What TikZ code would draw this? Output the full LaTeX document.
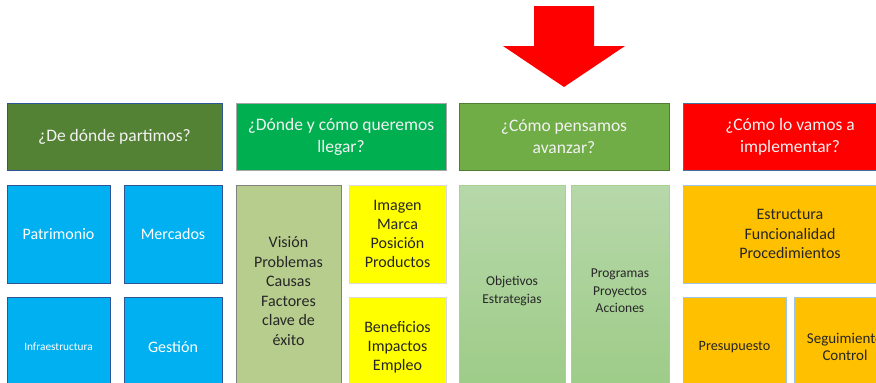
\documentclass[tikz,border=0pt]{standalone}
\usepackage{fontspec}
\setmainfont{Carlito}
\definecolor{hOne}{HTML}{548235}
\definecolor{hOneB}{HTML}{2F5597}
\definecolor{hTwo}{HTML}{00B050}
\definecolor{hThree}{HTML}{70AD47}
\definecolor{hThreeB}{HTML}{507E32}
\definecolor{hFour}{HTML}{FF0000}
\definecolor{hFourB}{HTML}{41719C}
\definecolor{bBlue}{HTML}{00B0F0}
\definecolor{bBlueB}{HTML}{2F5597}
\definecolor{bOlive}{HTML}{B7CD8D}
\definecolor{bYellow}{HTML}{FFFF00}
\definecolor{gTop}{HTML}{B7D8AA}
\definecolor{gBot}{HTML}{9CCB86}
\definecolor{gB}{HTML}{A9D18E}
\definecolor{bOrange}{HTML}{FFC000}
\definecolor{bOrangeB}{HTML}{9DC3E6}
\definecolor{txtW}{HTML}{F2F2F2}
\definecolor{txtD}{HTML}{262626}
\tikzset{
  box/.style={draw, line width=1pt, inner sep=0pt, align=center, anchor=center},
  head/.style={box, minimum width=#1, minimum height=67pt, text=txtW,
    font=\fontsize{17.5}{22}\selectfont},
  body/.style={box, text=txtD, font=\fontsize{16}{19.5}\selectfont},
}
\begin{document}
\begin{tikzpicture}[x=1pt,y=-1pt]
\path[use as bounding box, clip] (0,0) rectangle (876,383);
\fill[white] (0,0) rectangle (876,383);
% arrow
\fill[red] (534,6) -- (594,6) -- (594,46) -- (625,46) -- (564,87) -- (503,46) -- (534,46) -- cycle;
% headers
\node[head=215pt, fill=hOne, draw=hOneB] (h1) at (114.5,136.5) {¿De dónde partimos?};
\node[head=210pt, fill=hTwo, draw=gray!70] (h2) at (341,136.5) {¿Dónde y cómo queremos\\llegar?};
\node[head=210pt, fill=hThree, draw=hThreeB] (h3) at (564,136.5) {¿Cómo pensamos\\avanzar?};
\node[head=214pt, fill=hFour, draw=hFourB] (h4) at (790,136.5) {¿Cómo lo vamos a\\implementar?};
% column 1
\node[body, fill=bBlue, draw=bBlueB, text=white, minimum width=103pt, minimum height=98pt] (pat) at (58.5,234) {Patrimonio};
\node[body, fill=bBlue, draw=bBlueB, text=white, minimum width=98pt, minimum height=98pt] (mer) at (173,234) {Mercados};
\node[body, fill=bBlue, draw=bBlueB, text=white, minimum width=103pt, minimum height=100pt, font=\fontsize{11.3}{13}\selectfont] (inf) at (58.5,347) {Infraestructura};
\node[body, fill=bBlue, draw=bBlueB, text=white, minimum width=98pt, minimum height=100pt] (ges) at (173,347) {Gestión};
% column 2
\node[body, fill=bOlive, draw=gray, minimum width=105pt, minimum height=212pt] (vis) at (288.5,291) {Visión\\Problemas\\Causas\\Factores\\clave de\\éxito};
\node[body, fill=bYellow, draw=gray!30, minimum width=97pt, minimum height=98pt, font=\fontsize{16}{19.2}\selectfont] (ima) at (397.5,234) {Imagen\\Marca\\Posición\\Productos};
\node[body, fill=bYellow, draw=gray!30, minimum width=97pt, minimum height=100pt, font=\fontsize{16}{19.2}\selectfont] (ben) at (397.5,347) {Beneficios\\Impactos\\Empleo};
% column 3
\node[body, top color=gTop, bottom color=gBot, draw=gB, minimum width=106pt, minimum height=212pt, font=\fontsize{13.5}{17.5}\selectfont] (obj) at (512,291) {Objetivos\\Estrategias};
\node[body, top color=gTop, bottom color=gBot, draw=gB, minimum width=98pt, minimum height=212pt, font=\fontsize{13.5}{17.5}\selectfont] (pro) at (620,291) {Programas\\Proyectos\\Acciones};
% column 4
\node[body, fill=bOrange, draw=bOrangeB, minimum width=214pt, minimum height=98pt] (est) at (790,234) {Estructura\\Funcionalidad\\Procedimientos};
\node[body, fill=bOrange, draw=bOrangeB, minimum width=103pt, minimum height=100pt, font=\fontsize{14.2}{17}\selectfont] (pre) at (734.5,347) {Presupuesto};
\node[body, fill=bOrange, draw=bOrangeB, minimum width=102pt, minimum height=100pt, font=\fontsize{15}{17.5}\selectfont] (seg) at (845,347) {Seguimiento\\Control};
\end{tikzpicture}
\end{document}
